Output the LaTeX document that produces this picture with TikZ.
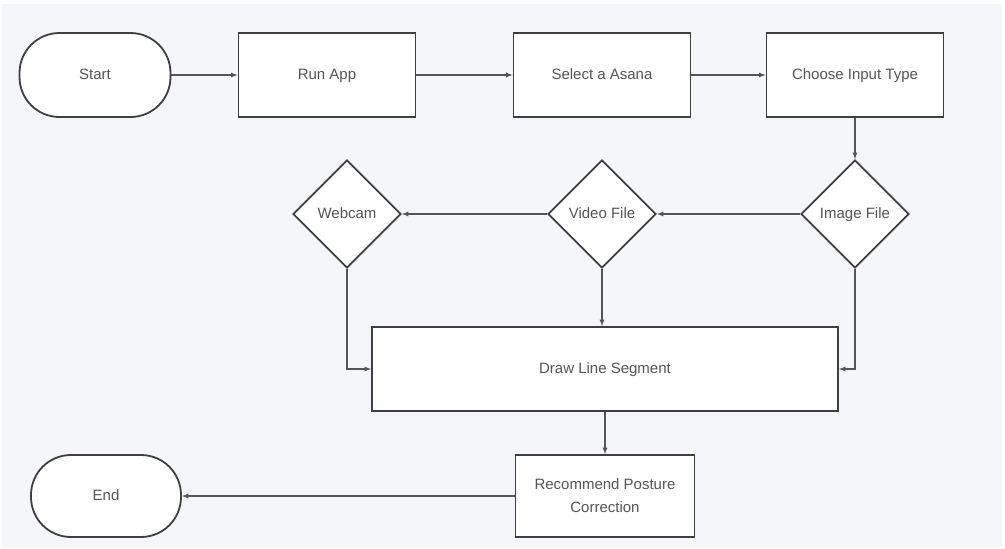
\documentclass[tikz,border=0pt]{standalone}
\usepackage{fontspec}
\setmainfont{Liberation Sans}
\usepackage{tikz}
\usetikzlibrary{shapes,arrows}
\definecolor{pagebg}{HTML}{F4F6F9}
\definecolor{boxline}{HTML}{3F3F3F}
\definecolor{arrowline}{HTML}{555555}
\definecolor{textgray}{HTML}{555555}
\tikzset{
  block/.style={draw=boxline, line width=1.8pt, fill=white, rectangle,
    minimum width=177pt, minimum height=84pt, inner sep=0pt,
    text=textgray, font=\fontsize{15}{23}\selectfont, align=center},
  oneline/.style={text height=11pt, text depth=3pt},
  terminal/.style={block, oneline, rounded corners=40pt, minimum width=151pt},
  decision/.style={draw=boxline, line width=1.8pt, fill=white, diamond,
    minimum width=108pt, minimum height=108pt, inner sep=0pt,
    text=textgray, font=\fontsize{15}{18}\selectfont, oneline},
  flow/.style={draw=arrowline, line width=1.2pt, ->, >=latex}
}

\begin{document}
\begin{tikzpicture}[x=1pt, y=-1pt]
     \useasboundingbox (0,0) rectangle (1005,549);
     \fill [white] (0,0) rectangle (1005,549);
     \fill [pagebg] (2,4) rectangle (1002,547);
     % top row
     \node [terminal] (start) at (95,75) {Start};
     \node [block, oneline] (runapp) at (327,75) {Run App};
     \node [block, oneline] (asana) at (602,75) {Select a Asana};
     \node [block, oneline] (inputtype) at (855,75) {Choose Input Type};
     % input choices
     \node [decision] (image) at (855,214) {Image File};
     \node [decision] (video) at (602,214) {Video File};
     \node [decision] (webcam) at (347,214) {Webcam};
     % processing
     \node [block, oneline, minimum width=466pt] (segment) at (605,369) {Draw Line Segment};
     \node [block, minimum width=179pt, minimum height=82pt] (posture) at (605,496) {Recommend Posture\\Correction};
     \node [terminal, minimum width=150pt, minimum height=82pt] (finish) at (106,496) {End};
     % connectors
     \draw [flow] (start) -- (runapp);
     \draw [flow] (runapp) -- (asana);
     \draw [flow] (asana) -- (inputtype);
     \draw [flow] (inputtype) -- (image);
     \draw [flow] (image) -- (video);
     \draw [flow] (video) -- (webcam);
     \draw [flow] (webcam.south) |- (segment.west);
     \draw [flow] (video.south) -- (video.south |- segment.north);
     \draw [flow] (image.south) |- (segment.east);
     \draw [flow] (segment) -- (posture);
     \draw [flow] (posture) -- (finish);
 \end{tikzpicture}
\end{document}
